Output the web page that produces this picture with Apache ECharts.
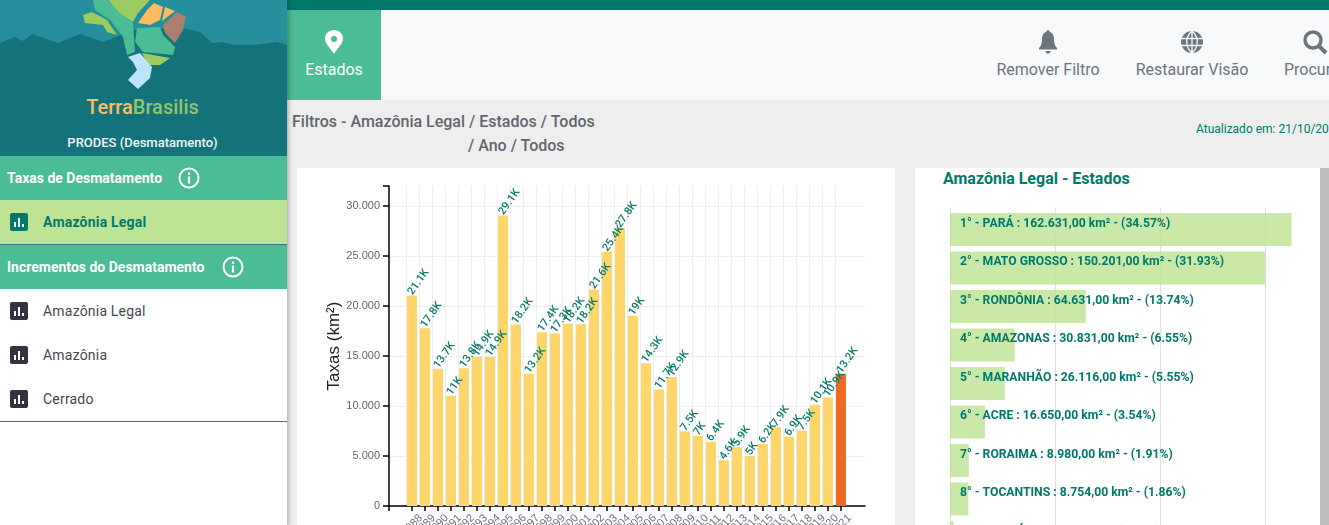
<!DOCTYPE html>
<html>
<head>
<meta charset="utf-8">
<title>TerraBrasilis</title>
<script src="https://cdn.jsdelivr.net/npm/echarts@6/dist/echarts.min.js"></script>
<style>
html, body { margin: 0; padding: 0; width: 1329px; height: 525px; overflow: hidden; background: #eee; font-family: Roboto, sans-serif; }
.abs { position: absolute; white-space: nowrap; }
#side { left: 0; top: 0; width: 287px; height: 525px; background: #fff; box-shadow: 2px 0 4px rgba(0,0,0,.25); z-index: 5; overflow: hidden; }
.sec { left: 0; width: 287px; height: 44px; line-height: 44px; background: #4abc96; color: #fff; font-weight: 700; font-size: 14px; text-indent: 7px; }
.item { left: 0; width: 287px; height: 44px; line-height: 44px; color: #45474f; font-size: 14px; text-indent: 43px; letter-spacing: .2px; }
.ico { position: absolute; left: 10px; top: 13px; }
.info { position: absolute; top: 11px; }
.nav { top: 60px; font-size: 16px; color: #6c757d; transform: translateX(-50%); }
</style>
</head>
<body>

<div class="abs" style="left:287px;top:0;width:1042px;height:10px;background:#00796b"></div>
<div class="abs" style="left:287px;top:10px;width:1042px;height:90px;background:#f8f9fa"></div>
<div class="abs" style="left:287px;top:10px;width:94px;height:90px;background:#4abc96"></div>
<svg class="abs" style="left:323px;top:29px" width="22" height="26" viewBox="0 0 22 26">
  <path fill="#fff" fill-rule="evenodd" d="M11 1C5.8 1 2 5 2 9.6 2 15 8 20 11 25c3-5 9-10 9-15.4C20 5 16.2 1 11 1zm0 6a3 3 0 1 1 0 6 3 3 0 0 1 0-6z"/>
</svg>
<div class="abs nav" style="left:334px;color:#fff">Estados</div>

<svg class="abs" style="left:1036px;top:29px" width="24" height="26" viewBox="0 0 24 26">
  <path fill="#6c757d" d="M12 1c-1 0-1.6.8-1.6 1.8C7 4 6 7 6 10.5c0 4-1 6.500-3 8.500v1.500h18V19c-2-2-3-4.500-3-8.500 0-3.500-1-6.500-4.400-7.700C13.600 1.800 13 1 12 1zM9.500 22a2.500 2.500 0 0 0 5 0z"/>
</svg>
<div class="abs nav" style="left:1048px">Remover Filtro</div>
<svg class="abs" style="left:1180px;top:30px" width="24" height="24" viewBox="0 0 24 24">
  <circle cx="12" cy="12" r="11" fill="#6c757d"/>
  <path fill="none" stroke="#f8f9fa" stroke-width="1.300" d="M1 8.500h22M1 15.500h22M12 1v22M12 1c-7 6-7 16 0 22M12 1c7 6 7 16 0 22"/>
</svg>
<div class="abs nav" style="left:1192px">Restaurar Visão</div>
<svg class="abs" style="left:1302px;top:29px" width="27" height="26" viewBox="0 0 27 26">
  <circle cx="11" cy="11" r="8" fill="none" stroke="#6c757d" stroke-width="3.500"/>
  <path stroke="#6c757d" stroke-width="4" d="M17 17l7 7"/>
</svg>
<div class="abs" style="left:1284px;top:60px;font-size:16px;color:#6c757d">Procurar</div>

<div class="abs" style="left:292px;top:112px;font-size:16px;font-weight:500;color:#62666f">Filtros - Amazônia Legal / Estados / Todos</div>
<div class="abs" style="left:468px;top:136px;font-size:16px;font-weight:500;color:#62666f">/ Ano / Todos</div>
<div class="abs" style="left:1196px;top:122px;font-size:12px;color:#00796b">Atualizado em: 21/10/2021</div>

<div class="abs" style="left:297px;top:168px;width:598px;height:357px;background:#fff"></div>
<div class="abs" style="left:915px;top:168px;width:405px;height:357px;background:#fff"></div>
<div class="abs" style="left:1320px;top:168px;width:9px;height:357px;background:#bdbdbd"></div>
<div class="abs" style="left:943px;top:169px;font-size:16px;font-weight:700;color:#00796b">Amazônia Legal - Estados</div>

<div id="chart-anos" class="abs" style="left:297px;top:168px;width:598px;height:357px"></div>
<div id="chart-estados" class="abs" style="left:915px;top:168px;width:405px;height:357px"></div>

<div id="side" class="abs">
  <svg class="abs" style="left:0;top:0" width="287" height="156" viewBox="0 0 287 156">
    <rect width="287" height="156" fill="#258f9b"/>
    <polygon fill="#14727b" points="0,43 15,37 23,41 32,34 58,43 80,34 103,42 133,30 183,28 200,32 212,43 223,42 233,45 253,45 277,42 287,45 287,156 0,156"/>
    <polygon fill="#4abc96" points="93,0 107,0 133,23 135,52 127,55 123,37 110,20 95,10"/>
    <polygon fill="#9ccb62" points="83,15 92,12 107,20 117,35 107,32 103,25 85,23"/>
    <polygon fill="#9ccb62" points="108,0 150,0 138,13 133,22 120,13"/>
    <polygon fill="#fdbb5f" points="138,23 147,10 154,3 163,7 160,20 150,25"/>
    <polygon fill="#fdbb5f" points="162,21 165,7 175,11"/>
    <polygon fill="#a97f6e" points="163,25 177,12 186,17 183,30 175,43 165,33"/>
    <polygon fill="#4abc96" points="137,28 160,27 163,35 175,47 173,55 143,52 135,42"/>
    <polygon fill="#9ccb62" points="142,53 170,58 160,65 148,65"/>
    <polygon fill="#bfe3ff" points="128,57 140,53 152,67 150,78 138,89 128,80 137,70 133,62"/>
  </svg>
  <div class="abs" style="left:-1px;width:287px;top:95px;text-align:center;font-size:20px;font-weight:500;color:#92c765"><span style="color:#fdbb5f">Terra</span>Brasilis</div>
  <div class="abs" style="left:-1px;width:287px;top:135px;text-align:center;font-size:13px;font-weight:500;color:#eef6f6">PRODES (Desmatamento)</div>

  <div class="abs sec" style="top:156px">Taxas de Desmatamento
    <svg class="info" style="left:178px" width="22" height="22" viewBox="0 0 22 22"><circle cx="11" cy="11" r="9.500" fill="none" stroke="#fff" stroke-width="2"/><path stroke="#fff" stroke-width="2.200" d="M11 9.500v7M11 5.500v2.200"/></svg>
  </div>
  <div class="abs item" style="top:200px;background:#bde394;color:#00796b;font-weight:700">Amazônia Legal
    <svg class="ico" width="18" height="18" viewBox="0 0 18 18"><rect width="18" height="18" rx="2" fill="#00796b"/><path stroke="#fff" stroke-width="2" d="M5 14V9M9 14V5M13 14v-3"/></svg>
  </div>
  <div class="abs" style="left:0;top:244px;width:287px;height:1px;background:#3f6f80"></div>
  <div class="abs sec" style="top:245px">Incrementos do Desmatamento
    <svg class="info" style="left:222px" width="22" height="22" viewBox="0 0 22 22"><circle cx="11" cy="11" r="9.500" fill="none" stroke="#fff" stroke-width="2"/><path stroke="#fff" stroke-width="2.200" d="M11 9.500v7M11 5.500v2.200"/></svg>
  </div>
  <div class="abs item" style="top:289px">Amazônia Legal
    <svg class="ico" width="18" height="18" viewBox="0 0 18 18"><rect width="18" height="18" rx="2" fill="#33333f"/><path stroke="#fff" stroke-width="2" d="M5 14V9M9 14V5M13 14v-3"/></svg>
  </div>
  <div class="abs item" style="top:333px">Amazônia
    <svg class="ico" width="18" height="18" viewBox="0 0 18 18"><rect width="18" height="18" rx="2" fill="#33333f"/><path stroke="#fff" stroke-width="2" d="M5 14V9M9 14V5M13 14v-3"/></svg>
  </div>
  <div class="abs item" style="top:377px">Cerrado
    <svg class="ico" width="18" height="18" viewBox="0 0 18 18"><rect width="18" height="18" rx="2" fill="#33333f"/><path stroke="#fff" stroke-width="2" d="M5 14V9M9 14V5M13 14v-3"/></svg>
  </div>
  <div class="abs" style="left:0;top:421px;width:287px;height:1px;background:#3f6f80"></div>
</div>

<script>
// Taxas por ano
var anos = [1988, 1989, 1990, 1991, 1992, 1993, 1994, 1995, 1996, 1997, 1998, 1999, 2000, 2001, 2002, 2003, 2004,
    2005, 2006, 2007, 2008, 2009, 2010, 2011, 2012, 2013, 2014, 2015, 2016, 2017, 2018, 2019, 2020, 2021];
var taxas = [21050, 17770, 13730, 11030, 13786, 14896, 14896, 29059, 18161, 13227, 17383, 17259, 18226, 18165, 21650, 25396, 27772,
    19014, 14286, 11651, 12911, 7464, 7000, 6418, 4571, 5891, 5012, 6207, 7893, 6947, 7536, 10129, 10851, 13235];
var taxaTicks = [0, 5000, 10000, 15000, 20000, 25000, 30000];

// Estados
var estados = ['PARÁ', 'MATO GROSSO', 'RONDÔNIA', 'AMAZONAS', 'MARANHÃO', 'ACRE', 'RORAIMA', 'TOCANTINS', 'AMAPÁ'];
var areas = [162631, 150201, 64631, 30831, 26116, 16650, 8980, 8754, 1646];
var percentuais = [34.57, 31.93, 13.74, 6.55, 5.55, 3.54, 1.91, 1.86, 0.35];

function milhar(v) {
    return String(v).replace(/\B(?=(\d{3})+$)/g, '.');
}

var xMin = 1986.23, xMax = 2022.85;

// the year labels are split over two axes, one axis alone drops its edge labels as overlapping
function yearLabels(years) {
    return {
        customValues: years,
        rotate: 45,
        margin: 19,
        align: 'center',
        verticalAlign: 'middle',
        fontSize: 11,
        fontFamily: 'Liberation Sans',
        color: '#6c7280',
        formatter: function (v) { return String(v); }
    };
}

var echart1 = echarts.init(document.getElementById('chart-anos'));
var option1 = {
    animation: false,
    grid: { left: 92, top: 18, width: 476, height: 320, outerBoundsMode: 'none' },
    xAxis: [{
        type: 'value',
        position: 'bottom',
        min: xMin,
        max: xMax,
        axisLine: { lineStyle: { color: '#000', width: 1.5 } },
        axisTick: { length: 5, lineStyle: { color: '#000', width: 1.5 }, customValues: [xMin].concat(anos) },
        axisLabel: yearLabels(anos.filter(function (a) { return a % 2 === 0; })),
        splitLine: { show: false }
    }, {
        // vertical grid lines sit on the left edge of each bar
        type: 'value',
        position: 'bottom',
        min: xMin,
        max: xMax,
        axisLine: { show: false },
        axisLabel: yearLabels(anos.filter(function (a) { return a % 2 === 1; })),
        axisTick: { show: false, customValues: anos.map(function (a) { return a - 0.42; }) },
        splitLine: { show: true, lineStyle: { color: '#eeeeee' } }
    }],
    yAxis: {
        type: 'value',
        min: 0,
        max: 32000,
        name: 'Taxas (km²)',
        nameLocation: 'middle',
        nameGap: 46,
        nameMoveOverlap: false,
        nameTextStyle: { fontSize: 17, fontFamily: 'Liberation Sans', color: '#222' },
        axisLine: { show: true, lineStyle: { color: '#000', width: 1.5 } },
        axisTick: { show: true, length: 6, lineStyle: { color: '#000', width: 1.5 }, customValues: taxaTicks.concat([32000]) },
        axisLabel: {
            customValues: taxaTicks,
            margin: 9,
            padding: [2, 0, 0, 0],
            fontSize: 11,
            fontFamily: 'Liberation Sans',
            color: '#5f6672',
            formatter: function (v) { return milhar(v); }
        },
        splitLine: { show: true, showMaxLine: false, lineStyle: { color: '#eeeeee' } }
    },
    series: [{
        type: 'bar',
        barWidth: 10,
        data: anos.map(function (a, i) { return [a, taxas[i]]; }),
        itemStyle: {
            color: function (params) {
                return params.dataIndex === anos.length - 1 ? '#ec6a22' : '#ffd66b';
            }
        },
        label: {
            show: true,
            position: 'top',
            distance: 4,
            offset: [-3, 0],
            rotate: 55,
            align: 'left',
            verticalAlign: 'middle',
            fontSize: 11,
            fontWeight: 500,
            fontFamily: 'Roboto',
            color: '#0a7d6c',
            formatter: function (params) {
                return parseFloat((params.value[1] / 1000).toFixed(1)) + 'K';
            }
        }
    }]
};
echart1.setOption(option1);

var echart2 = echarts.init(document.getElementById('chart-estados'));
var option2 = {
    animation: false,
    // grid 0 holds the bars, grid 1 only the vertical lines, which start a bit higher
    grid: [
        { left: 35, top: 42.25, width: 420, height: 346.5, outerBoundsMode: 'none' },
        { left: 35, top: 40, width: 420, height: 349, outerBoundsMode: 'none' }
    ],
    xAxis: [{
        gridIndex: 0,
        type: 'value',
        min: 0,
        max: 200000,
        show: false
    }, {
        gridIndex: 1,
        type: 'value',
        min: 0,
        max: 200000,
        interval: 50000,
        axisLine: { show: false },
        axisTick: { show: false },
        axisLabel: { show: false },
        splitLine: { show: true, lineStyle: { color: '#e0e0e0' } }
    }],
    yAxis: [{
        gridIndex: 0,
        type: 'category',
        inverse: true,
        data: estados,
        show: false
    }, {
        gridIndex: 1,
        type: 'value',
        min: 0,
        max: 1,
        show: false
    }],
    series: [{
        type: 'bar',
        xAxisIndex: 0,
        yAxisIndex: 0,
        barWidth: 33,
        data: areas,
        itemStyle: { color: 'rgba(189,227,148,0.8)' },
        label: {
            show: true,
            position: 'insideTopLeft',
            distance: 0,
            offset: [10, 4.5],
            fontSize: 12.2,
            fontWeight: 700,
            fontFamily: 'Roboto',
            color: '#00796b',
            formatter: function (params) {
                var i = params.dataIndex;
                return (i + 1) + '° - ' + estados[i] + ' : ' + milhar(areas[i]) + ',00 km² - (' + percentuais[i].toFixed(2) + '%)';
            }
        }
    }]
};
echart2.setOption(option2);
</script>
</body>
</html>
